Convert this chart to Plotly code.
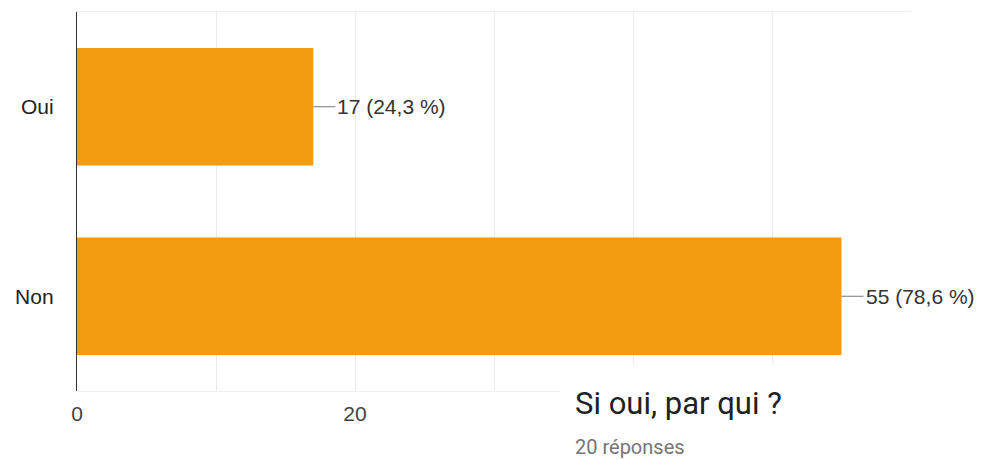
import plotly.graph_objects as go

# Données
categories = ["Oui", "Non"]
counts = [17, 55]
percents = ["24,3 %", "78,6 %"]
x_tickvals = [0, 20, 40, 60]
x_ticktext = ["0", "20", "", ""]   # 40 et 60 masqués par l'encart

question = "Si oui, par qui ?"
sous_titre = "20 réponses"

ORANGE = "#F39C12"


def main():
    fig = go.Figure()

    fig.add_trace(
        go.Bar(
            x=counts,
            y=categories,
            orientation="h",
            marker_color=ORANGE,
            marker_line_width=0,
            hoverinfo="skip",
        )
    )

    # étiquettes avec petit trait de rappel
    for cat, n, pct in zip(categories, counts, percents):
        fig.add_annotation(
            x=n, y=cat, xref="x", yref="y",
            text=f"{n} ({pct})",
            showarrow=True, arrowhead=0, arrowwidth=1, arrowcolor="#777",
            ax=22, ay=0, xanchor="left", yanchor="middle",
            font=dict(family="Arial", size=21, color="#333"),
        )

    # encart blanc du formulaire suivant (question + nb de réponses)
    fig.add_shape(
        type="rect", xref="paper", yref="paper",
        x0=0.579, x1=1.2, y0=-0.3, y1=0.071,
        fillcolor="white", line_width=0, layer="above",
    )
    fig.add_annotation(
        text=question, xref="paper", yref="paper",
        x=0.595, y=-0.032, xanchor="left", yanchor="middle", showarrow=False,
        font=dict(family="Roboto", size=31, color="#202124"),
    )
    fig.add_annotation(
        text=sous_titre, xref="paper", yref="paper",
        x=0.595, y=-0.147, xanchor="left", yanchor="middle", showarrow=False,
        font=dict(family="Roboto", size=20, color="#757575"),
    )

    fig.update_xaxes(
        range=[0, 60],
        tickvals=x_tickvals, ticktext=x_ticktext,
        showgrid=True, gridcolor="#ebebeb", gridwidth=1,
        minor=dict(dtick=10, showgrid=True, gridcolor="#ebebeb", gridwidth=1),
        zeroline=False,
        showline=True, mirror=True, linecolor="#f0f0f0", linewidth=1,
        ticklabelstandoff=4,
        tickfont=dict(family="Arial", size=21, color="#444"),
        automargin=False,
    )
    fig.update_yaxes(
        autorange="reversed",
        showgrid=False, zeroline=False,
        showline=True, linecolor="#333", linewidth=1.4,
        ticklabelstandoff=18,
        tickfont=dict(family="Arial", size=21, color="#222"),
        automargin=False,
    )

    # la page ajoute une marge de 8 px autour de la figure : on compense
    fig.update_layout(
        width=983, height=460,
        margin=dict(l=69, r=80, t=4, b=77, autoexpand=False),
        bargap=0.38,
        showlegend=False,
        plot_bgcolor="white", paper_bgcolor="white",
    )

    fig.write_html("out.html")


if __name__ == "__main__":
    main()
